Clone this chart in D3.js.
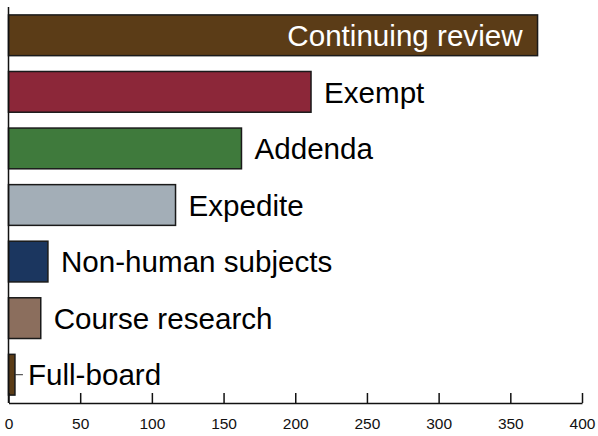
<!DOCTYPE html>
<html>
<head>
<meta charset="utf-8">
<script src="https://cdn.jsdelivr.net/npm/d3@7"></script>
<style>
    body { margin: 0; background: #fff; }
    text { font-family: "Liberation Sans", Arial, Helvetica, sans-serif; }
</style>
</head>
<body>
<svg id="chart" width="598" height="436"></svg>
<script>
// review categories, top to bottom
const categories = ["Continuing review", "Exempt", "Addenda", "Expedite", "Non-human subjects", "Course research", "Full-board"];
const counts = [369, 211, 162.5, 116.5, 27.5, 22.5, 4.5];
const barColors = ["#5b3c17", "#8c2739", "#3f7a3c", "#a3aeb7", "#1b365f", "#8b6e5d", "#5b3c17"];
const xTicks = [0, 50, 100, 150, 200, 250, 300, 350, 400];

let svg = d3.select("#chart");
let margin = { left: 8.5, right: 16, top: 7, bottom: 33 };
let width = +svg.attr("width"), height = +svg.attr("height");

let x = d3.scaleLinear().domain([0, 400]).range([margin.left, width - margin.right]);
let y = d3.scaleBand().domain(categories).range([margin.top, height - margin.bottom]).paddingInner(0.28).paddingOuter(0.14);

let rows = categories.map((c, i) => ({ name: c, value: counts[i], color: barColors[i] }));

// bars
svg.append("g").selectAll("rect")
    .data(rows)
    .enter()
    .append("rect")
    .attr("x", x(0))
    .attr("y", d => y(d.name))
    .attr("width", d => x(d.value) - x(0))
    .attr("height", y.bandwidth())
    .attr("fill", d => d.color)
    .attr("stroke", "#1a1a1a")
    .attr("stroke-width", 1.5);

// labels: inside for the long bar, outside for the rest
svg.append("g").selectAll("text")
    .data(rows)
    .enter()
    .append("text")
    .attr("y", d => y(d.name) + y.bandwidth() / 2)
    .attr("dy", "0.36em")
    .style("font-size", "29.6px")
    .text(d => d.name)
    .each(function(d, i) {
        let t = d3.select(this);
        if (i == 0) {
            t.attr("x", x(d.value) - 15).attr("text-anchor", "end").attr("fill", "#fff");
        }
        else {
            t.attr("x", x(d.value) + 13).attr("text-anchor", "start").attr("fill", "#000");
        }
    });

// leader line for the tiny bar
let last = rows[rows.length - 1];
svg.append("line")
    .attr("x1", x(last.value))
    .attr("x2", x(last.value) + 8)
    .attr("y1", y(last.name) + y.bandwidth() / 2)
    .attr("y2", y(last.name) + y.bandwidth() / 2)
    .attr("stroke", "#333")
    .attr("stroke-width", 1);

// x axis, ticks pointing inward
let xAxis = d3.axisBottom(x).tickValues(xTicks).tickSizeInner(-10).tickSizeOuter(0).tickPadding(15);
let gx = svg.append("g")
    .attr("transform", "translate(0," + (height - margin.bottom) + ")")
    .call(xAxis);
gx.select(".domain").attr("stroke", "#111").attr("stroke-width", 1.5);
gx.selectAll(".tick line").attr("stroke", "#111").attr("stroke-width", 1.5);
gx.selectAll(".tick text")
    .style("font-family", "'Liberation Sans', Arial, sans-serif")
    .style("font-size", "15.5px")
    .attr("fill", "#111");

// left spine
svg.append("line")
    .attr("x1", x(0)).attr("x2", x(0))
    .attr("y1", margin.top).attr("y2", height - margin.bottom)
    .attr("stroke", "#111")
    .attr("stroke-width", 1.5);
</script>
</body>
</html>
